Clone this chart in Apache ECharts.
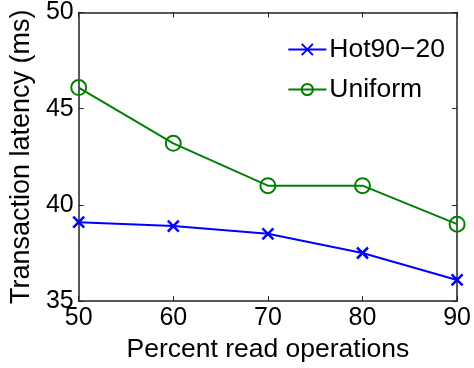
<!DOCTYPE html>
<html>
<head>
<meta charset="utf-8">
<script src="https://cdn.jsdelivr.net/npm/echarts@6/dist/echarts.min.js"></script>
<style>
  html, body { margin: 0; padding: 0; background: #fff; }
  #chart { width: 474px; height: 368px; }
</style>
</head>
<body>
<div id="chart"></div>
<script>
// Percent of read operations in the workload
const readPercent = [50, 60, 70, 80, 90];
// Mean transaction latency (ms) per access pattern
const hotLatency = [39.1, 38.9, 38.5, 37.5, 36.1];
const uniformLatency = [46.1, 43.2, 41.0, 41.0, 39.0];
const xTicks = [50, 60, 70, 80, 90];
const yTicks = [35, 40, 45, 50];

const FONT = '"Liberation Sans", Arial, Helvetica, sans-serif';
const AXIS_COLOR = '#222';

const pairs = (ys) => readPercent.map((x, i) => [x, ys[i]]);

const boxAxis = (extra) => Object.assign({
  type: 'value',
  axisLine: { show: true, onZero: false, lineStyle: { color: AXIS_COLOR, width: 1.5 } },
  axisTick: { show: true, inside: true, length: 5, lineStyle: { color: AXIS_COLOR, width: 1 } },
  splitLine: { show: false }
}, extra);

const chart = echarts.init(document.getElementById('chart'));
chart.setOption({
  animation: false,
  backgroundColor: '#fff',
  grid: { left: 78, right: 16, top: 12, bottom: 65 },
  legend: {
    right: 24,
    top: 31,
    orient: 'vertical',
    itemWidth: 38,
    itemHeight: 14,
    itemGap: 13,
    textStyle: { fontFamily: FONT, fontSize: 26.5, color: '#000', padding: [0, 0, 0, -2] },
    data: ['Hot90\u221220', 'Uniform']
  },
  xAxis: [
    boxAxis({
      position: 'bottom',
      min: xTicks[0], max: xTicks[xTicks.length - 1], interval: 10,
      name: 'Percent read operations',
      nameLocation: 'middle',
      nameGap: 30,
      nameTextStyle: { fontFamily: FONT, fontSize: 26.5, color: '#000' },
      axisLabel: { fontFamily: FONT, fontSize: 25, color: '#000', margin: 5 }
    }),
    boxAxis({
      position: 'top',
      min: xTicks[0], max: xTicks[xTicks.length - 1], interval: 10,
      axisLabel: { show: false }
    })
  ],
  yAxis: [
    boxAxis({
      position: 'left',
      min: yTicks[0], max: yTicks[yTicks.length - 1], interval: 5,
      name: 'Transaction latency (ms)',
      nameLocation: 'middle',
      nameGap: 42,
      nameTextStyle: { fontFamily: FONT, fontSize: 27, color: '#000' },
      axisLabel: { fontFamily: FONT, fontSize: 25, color: '#000', margin: 5 }
    }),
    boxAxis({
      position: 'right',
      min: yTicks[0], max: yTicks[yTicks.length - 1], interval: 5,
      axisLabel: { show: false }
    })
  ],
  series: [
    {
      name: 'Hot90\u221220',
      type: 'line',
      data: pairs(hotLatency),
      color: '#0000ff',
      symbol: 'path://M0,0L10,10M10,0L0,10',
      symbolSize: 11,
      lineStyle: { color: '#0000ff', width: 2 },
      itemStyle: { color: 'rgba(0,0,0,0)', borderColor: '#0000ff', borderWidth: 2.5 },
      z: 3
    },
    {
      name: 'Uniform',
      type: 'line',
      data: pairs(uniformLatency),
      color: '#008000',
      symbol: 'circle',
      symbolSize: 15,
      lineStyle: { color: '#008000', width: 2 },
      itemStyle: { color: 'rgba(0,0,0,0)', borderColor: '#008000', borderWidth: 2 },
      z: 3
    }
  ]
});
</script>
</body>
</html>
